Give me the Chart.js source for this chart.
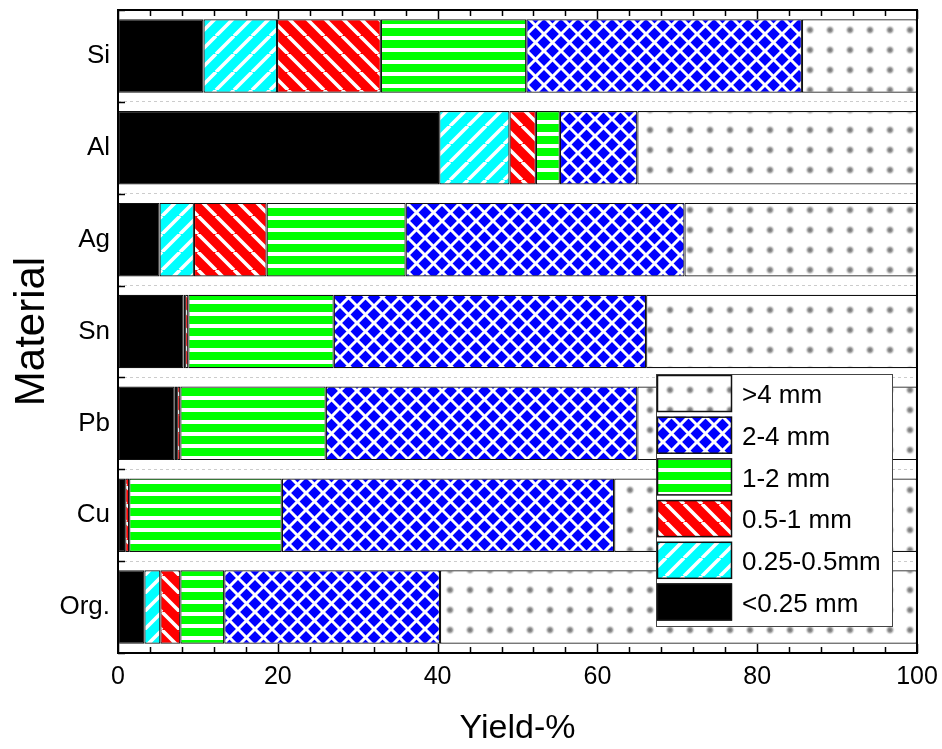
<!DOCTYPE html>
<html>
<head>
<meta charset="utf-8">
<script src="https://cdn.jsdelivr.net/npm/chart.js@4.4.1/dist/chart.umd.min.js"></script>
<style>
  html, body { margin: 0; padding: 0; background: #ffffff; }
  canvas { display: block; }
</style>
</head>
<body>
<canvas id="c" width="942" height="749"></canvas>
<script>
// ---- data ----
const materials = ['Si', 'Al', 'Ag', 'Sn', 'Pb', 'Cu', 'Org.'];
const seriesNames = ['<0.25 mm', '0.25-0.5mm', '0.5-1 mm', '1-2 mm', '2-4 mm', '>4 mm'];
const fineLt025 = [10.7, 40.2, 5.2, 8.2, 7.1, 0.9, 3.3];
const size025to05 = [9.2, 8.8, 4.3, 0.2, 0.3, 0.0, 2.0];
const size05to1 = [13.0, 3.3, 9.1, 0.4, 0.4, 0.5, 2.5];
const size1to2 = [18.2, 3.0, 17.4, 18.2, 18.2, 19.1, 5.5];
const size2to4 = [34.5, 9.7, 34.9, 39.1, 39.0, 41.6, 27.0];
const sizeGt4 = [14.4, 35.0, 29.1, 33.9, 35.0, 37.9, 59.7];
const xTickValues = [0, 20, 40, 60, 80, 100];

// ---- fill patterns ----
const canvas = document.getElementById('c');
const ctx = canvas.getContext('2d');
function tile(w, h, draw) {
  const t = document.createElement('canvas');
  t.width = w; t.height = h;
  const g = t.getContext('2d');
  draw(g, w, h);
  return ctx.createPattern(t, 'repeat');
}
const patCyan = tile(18, 18, (g, w, h) => {
  g.fillStyle = '#00ffff'; g.fillRect(0, 0, w, h);
  g.strokeStyle = '#ffffff'; g.lineWidth = 3.6;
  g.beginPath();
  for (let k = -1; k <= 1; k++) { g.moveTo(k * w, h); g.lineTo(k * w + w, 0); }
  g.stroke();
});
const patRed = tile(18, 18, (g, w, h) => {
  g.fillStyle = '#ff0000'; g.fillRect(0, 0, w, h);
  g.strokeStyle = '#ffffff'; g.lineWidth = 3.6;
  g.beginPath();
  for (let k = -1; k <= 1; k++) { g.moveTo(k * w, 0); g.lineTo(k * w + w, h); }
  g.stroke();
});
const patGreen = tile(8, 12, (g, w, h) => {
  g.fillStyle = '#00ff00'; g.fillRect(0, 0, w, h);
  g.fillStyle = '#ffffff'; g.fillRect(0, 0, w, 4);
});
const patBlue = tile(17, 17, (g, w, h) => {
  g.fillStyle = '#0000ff'; g.fillRect(0, 0, w, h);
  g.strokeStyle = '#ffffff'; g.lineWidth = 3;
  g.beginPath();
  for (let k = -1; k <= 1; k++) {
    g.moveTo(k * w, h); g.lineTo(k * w + w, 0);
    g.moveTo(k * w, 0); g.lineTo(k * w + w, h);
  }
  g.stroke();
});
const patDots = tile(20, 20, (g, w, h) => {
  g.fillStyle = '#ffffff'; g.fillRect(0, 0, w, h);
  const rg = g.createRadialGradient(10, 10, 0, 10, 10, 5);
  rg.addColorStop(0, '#6e6e6e');
  rg.addColorStop(0.45, '#9a9a9a');
  rg.addColorStop(1, 'rgba(230,230,230,0)');
  g.fillStyle = rg;
  g.beginPath(); g.arc(10, 10, 5, 0, Math.PI * 2); g.fill();
});

const fills = ['#000000', patCyan, patRed, patGreen, patBlue, patDots];
const seriesData = [fineLt025, size025to05, size05to1, size1to2, size2to4, sizeGt4];

const datasets = seriesNames.map((name, i) => ({
  label: name,
  data: seriesData[i],
  backgroundColor: fills[i],
  borderColor: '#111111',
  borderWidth: 1.2,
  borderSkipped: false,
  categoryPercentage: 0.8,
  barPercentage: 1.0
}));

const FONT = "'Liberation Sans', Arial, sans-serif";

// inner ticks, frame and legend
const decor = {
  id: 'decor',
  afterDatasetsDraw(chart) {
    const { ctx, chartArea: a, scales } = chart;
    const xs = scales.x, ys = scales.y;
    ctx.save();
    ctx.strokeStyle = '#000000';
    ctx.lineWidth = 1.5;
    ctx.beginPath();
    for (let v = 0; v <= 100; v += 4) {
      const px = Math.round(xs.getPixelForValue(v)) + 0.5;
      const len = (v % 20 === 0) ? 9 : 6;
      ctx.moveTo(px, a.bottom); ctx.lineTo(px, a.bottom - len);
      ctx.moveTo(px, a.top); ctx.lineTo(px, a.top + len);
    }
    for (let i = 0; i <= materials.length; i++) {
      const py = Math.round(ys.getPixelForValue(i - 0.5)) + 0.5;
      ctx.moveTo(a.left, py); ctx.lineTo(a.left + 7, py);
    }
    ctx.stroke();
    // frame
    ctx.lineWidth = 2;
    ctx.strokeRect(a.left, a.top, a.right - a.left, a.bottom - a.top);

    // legend (reverse order)
    const lx = a.right - 261, ly = a.top + 364, lw = 236, lh = 252;
    ctx.fillStyle = '#ffffff';
    ctx.fillRect(lx, ly, lw, lh);
    ctx.lineWidth = 1;
    ctx.strokeStyle = '#444444';
    ctx.strokeRect(lx + 0.5, ly + 0.5, lw, lh);
    const n = chart.data.datasets.length;
    ctx.font = '26px ' + FONT;
    ctx.textBaseline = 'middle';
    ctx.textAlign = 'left';
    for (let r = 0; r < n; r++) {
      const ds = chart.data.datasets[n - 1 - r];
      const sy = ly + 1 + r * 41.7;
      ctx.fillStyle = ds.backgroundColor;
      ctx.fillRect(lx + 1, sy, 75, 37);
      ctx.strokeStyle = '#111111';
      ctx.lineWidth = 1.5;
      ctx.strokeRect(lx + 1.5, sy + 0.5, 74, 36);
      ctx.fillStyle = '#000000';
      ctx.fillText(ds.label, lx + 86, sy + 21);
    }
    ctx.restore();
  }
};

new Chart(canvas, {
  type: 'bar',
  data: { labels: materials, datasets },
  options: {
    indexAxis: 'y',
    responsive: false,
    animation: false,
    layout: { padding: { top: 10, right: 25, left: 0, bottom: 0 } },
    plugins: { legend: { display: false }, tooltip: { enabled: false } },
    scales: {
      x: {
        type: 'linear',
        stacked: true,
        min: 0, max: 100,
        afterBuildTicks: (s) => { s.ticks = xTickValues.map(v => ({ value: v })); },
        grid: { display: false, drawTicks: false },
        border: { display: false },
        ticks: { color: '#000000', font: { family: FONT, size: 25 }, padding: 9 },
        title: { display: true, text: 'Yield-%', color: '#000000', font: { family: FONT, size: 34 }, padding: { top: 0, bottom: 0 } },
        afterFit: (s) => { s.height = 96; s.paddingLeft = 0; s.paddingRight = 0; }
      },
      y: {
        type: 'category',
        stacked: true,
        grid: { display: true, color: '#cccccc', lineWidth: 1, drawTicks: false, offset: true },
        border: { display: false, dash: [3, 3] },
        ticks: { color: '#000000', font: { family: FONT, size: 26 }, padding: 8 },
        title: { display: true, text: 'Material', color: '#000000', font: { family: FONT, size: 42 }, padding: { top: 7, bottom: 0 } },
        afterFit: (s) => { s.width = 118; s.paddingTop = 0; s.paddingBottom = 0; }
      }
    }
  },
  plugins: [decor]
});
</script>
</body>
</html>
